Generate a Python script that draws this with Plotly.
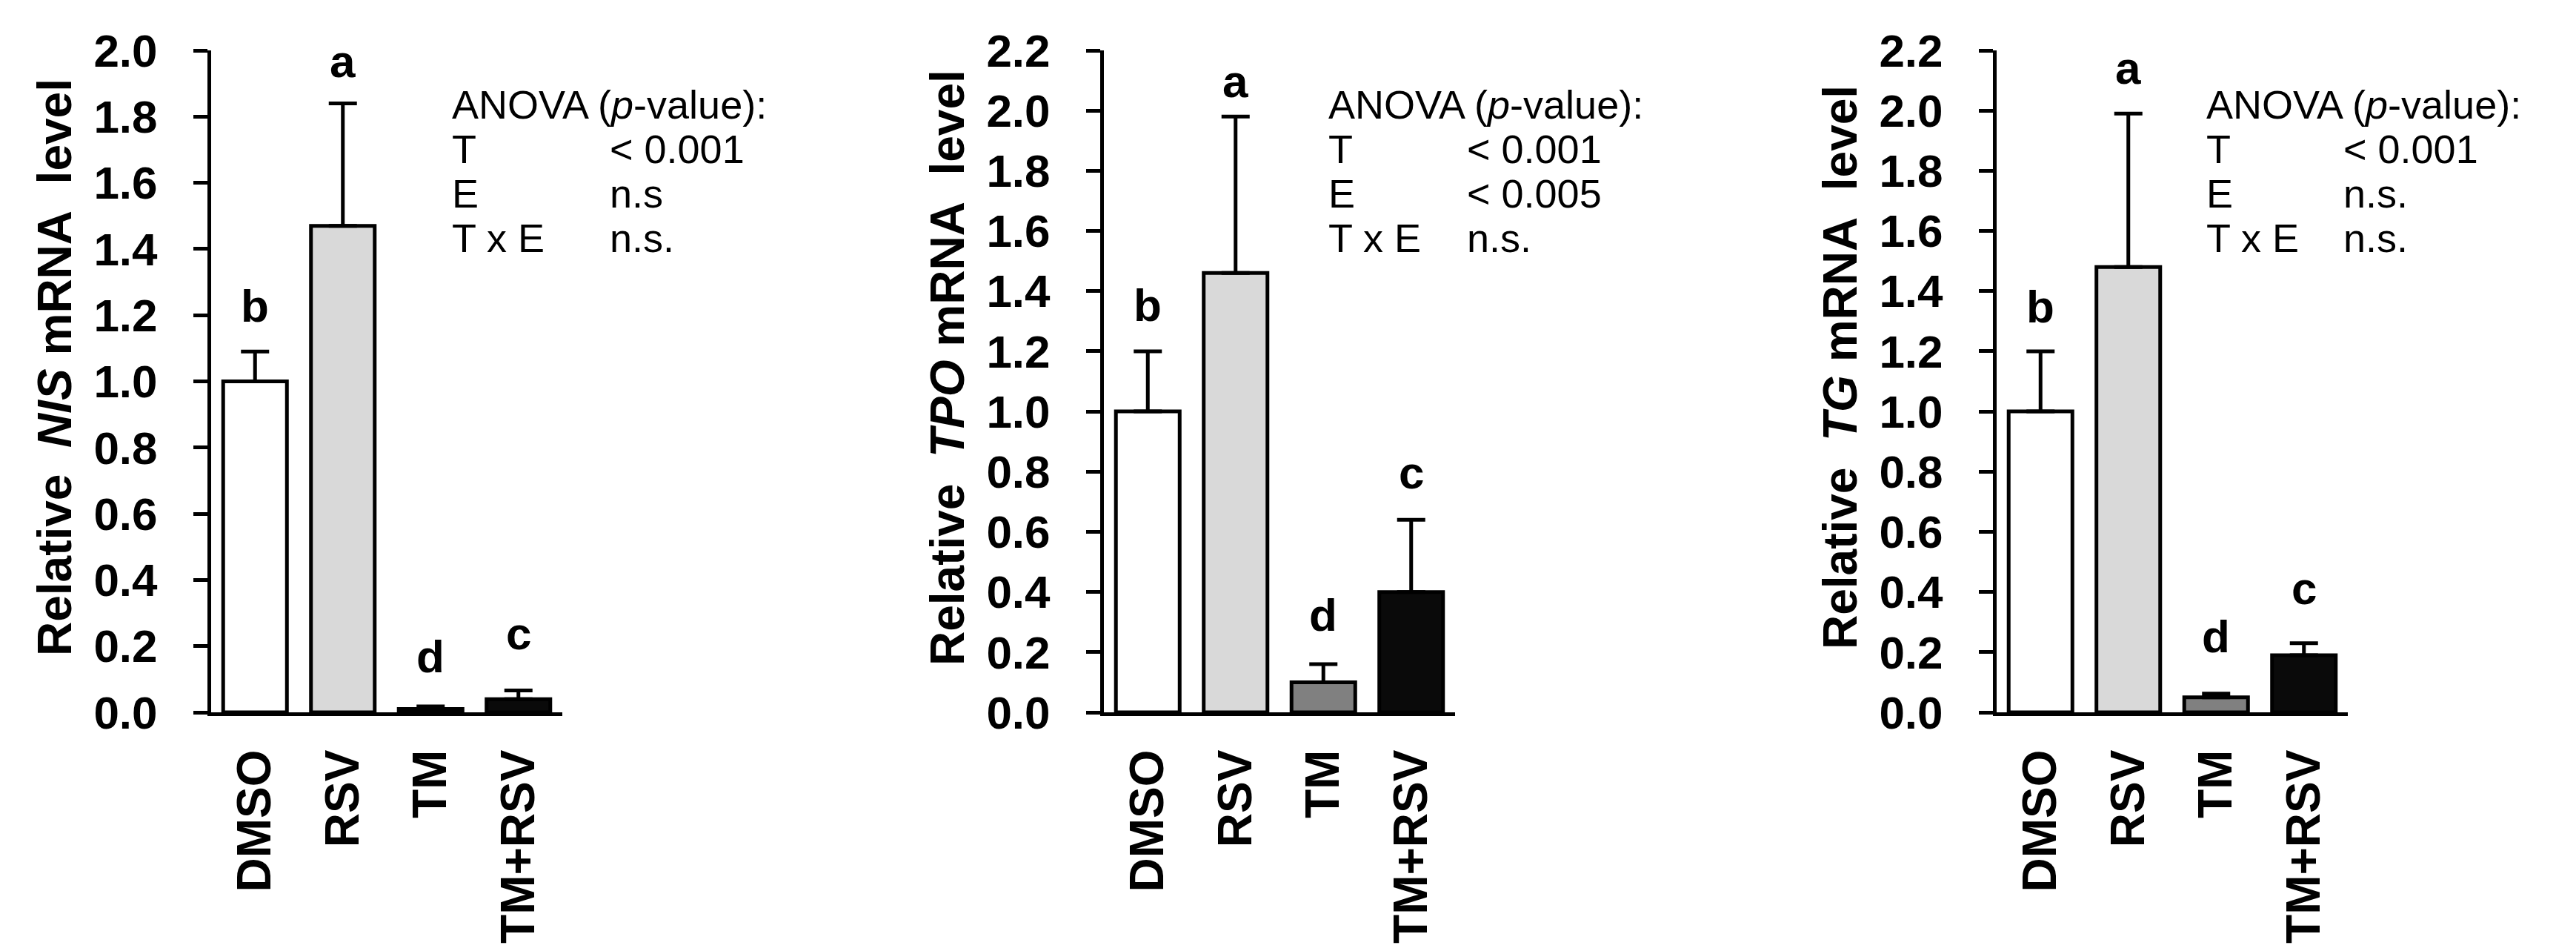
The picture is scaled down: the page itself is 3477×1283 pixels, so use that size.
import plotly.graph_objects as go
from plotly.subplots import make_subplots

groups = ["DMSO", "RSV", "TM", "TM+RSV"]
bar_colors = ["#ffffff", "#d9d9d9", "#808080", "#0a0a0a"]

# NIS panel
nis_mean = [1.00, 1.47, 0.01, 0.04]
nis_err = [0.09, 0.37, 0.008, 0.026]
nis_letters = ["b", "a", "d", "c"]
nis_letter_y = [1.18, 1.92, 0.12, 0.19]
nis_p = ["< 0.001", "n.s", "n.s."]

# TPO panel
tpo_mean = [1.00, 1.46, 0.10, 0.40]
tpo_err = [0.20, 0.52, 0.06, 0.24]
tpo_letters = ["b", "a", "d", "c"]
tpo_letter_y = [1.30, 2.045, 0.27, 0.745]
tpo_p = ["< 0.001", "< 0.005", "n.s."]

# TG panel
tg_mean = [1.00, 1.48, 0.05, 0.19]
tg_err = [0.20, 0.51, 0.012, 0.04]
tg_letters = ["b", "a", "d", "c"]
tg_letter_y = [1.295, 2.09, 0.20, 0.36]
tg_p = ["< 0.001", "n.s.", "n.s."]

anova_terms = ["T", "E", "T x E"]

W, H = 3477, 1283
FONT = "Liberation Sans, Arial, sans-serif"
plot_top, plot_bottom, plot_w = 60, 953, 474

panels = [
    dict(gene="NIS", ymax=2.0, mean=nis_mean, err=nis_err, letters=nis_letters,
         letter_y=nis_letter_y, p=nis_p, axis_x=277, lab_x=600, val_x=813),
    dict(gene="TPO", ymax=2.2, mean=tpo_mean, err=tpo_err, letters=tpo_letters,
         letter_y=tpo_letter_y, p=tpo_p, axis_x=1482, lab_x=1783, val_x=1970),
    dict(gene="TG", ymax=2.2, mean=tg_mean, err=tg_err, letters=tg_letters,
         letter_y=tg_letter_y, p=tg_p, axis_x=2687, lab_x=2968, val_x=3153),
]

fig = make_subplots(rows=1, cols=3)

for i, pnl in enumerate(panels, start=1):
    fig.add_trace(
        go.Bar(
            x=groups,
            y=pnl["mean"],
            marker=dict(color=bar_colors, line=dict(color="black", width=5)),
            error_y=dict(type="data", array=pnl["err"], arrayminus=[0] * 4,
                         symmetric=False, thickness=5, width=19, color="black"),
            showlegend=False,
        ),
        row=1, col=i,
    )
    xa = "xaxis" if i == 1 else f"xaxis{i}"
    ya = "yaxis" if i == 1 else f"yaxis{i}"
    x0 = pnl["axis_x"] / W
    x1 = (pnl["axis_x"] + plot_w) / W
    fig.layout[xa].update(
        domain=[x0, x1], range=[-0.5, 3.5], showline=True, linewidth=5,
        linecolor="black", ticks="", tickangle=-90, showgrid=False, zeroline=False,
        tickfont=dict(family=FONT, size=64, color="black", weight="bold"),
        ticklabelstandoff=20, automargin=False,
    )
    fig.layout[ya].update(
        domain=[1 - plot_bottom / H, 1 - plot_top / H], range=[0, pnl["ymax"]],
        dtick=0.2, tickformat=".1f", showline=True, linewidth=5, linecolor="black",
        ticks="outside", ticklen=19, tickwidth=5, tickcolor="black",
        showgrid=False, zeroline=False, automargin=False, ticklabelstandoff=36,
        tickfont=dict(family=FONT, size=62, color="black", weight="bold"),
    )

    xr = "x" if i == 1 else f"x{i}"
    yr = "y" if i == 1 else f"y{i}"
    for g, lt, ly in zip(groups, pnl["letters"], pnl["letter_y"]):
        fig.add_annotation(
            x=g, y=ly, xref=xr, yref=yr, text=lt, showarrow=False,
            yanchor="bottom", yshift=-15,
            font=dict(family=FONT, size=62, color="black", weight="bold"),
        )

    # y axis title
    fig.add_annotation(
        x=(pnl["axis_x"] - 211) / W, y=1 - 488 / H, xref="paper", yref="paper",
        text=f"Relative\u00a0 <i>{pnl['gene']}</i> mRNA\u00a0 level", textangle=-90,
        showarrow=False, xanchor="center", yanchor="middle",
        font=dict(family=FONT, size=64, color="black", weight="bold"),
    )

    # ANOVA table
    anova_font = dict(family=FONT, size=54, color="black")
    fig.add_annotation(
        x=pnl["lab_x"] / W, y=1 - 133 / H, xref="paper", yref="paper",
        text="ANOVA (<i>p</i>-value):", showarrow=False,
        xanchor="left", yanchor="middle", font=anova_font,
    )
    for k, (term, pv) in enumerate(zip(anova_terms, pnl["p"])):
        yy = 1 - (193 + 60 * k) / H
        fig.add_annotation(
            x=pnl["lab_x"] / W, y=yy, xref="paper", yref="paper", text=term,
            showarrow=False, xanchor="left", yanchor="middle", font=anova_font,
        )
        fig.add_annotation(
            x=pnl["val_x"] / W, y=yy, xref="paper", yref="paper", text=pv,
            showarrow=False, xanchor="left", yanchor="middle", font=anova_font,
        )

fig.update_layout(
    width=W, height=H, margin=dict(l=0, r=0, t=0, b=0),
    plot_bgcolor="white", paper_bgcolor="white",
    bargap=0.274, font=dict(family=FONT, color="black"),
)

fig.write_html("out.html")
